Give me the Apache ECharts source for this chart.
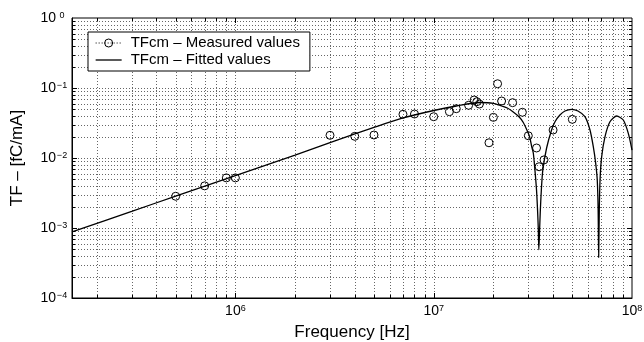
<!DOCTYPE html>
<html>
<head>
<meta charset="utf-8">
<title>TFcm</title>
<script src="https://cdn.jsdelivr.net/npm/echarts@6/dist/echarts.min.js"></script>
<style>
  html, body { margin: 0; padding: 0; background: #fff; }
  #main { width: 644px; height: 342px; }
</style>
</head>
<body>
<div id="main"></div>
<script>
// measured points (Hz, fC/mA)
var measFreq = [5e5, 7e5, 9e5, 1e6, 3e6, 4e6, 5e6, 7e6, 8e6, 1e7, 1.2e7, 1.3e7, 1.5e7, 1.6e7,
    1.65e7, 1.7e7, 1.9e7, 2e7, 2.1e7, 2.2e7, 2.5e7, 2.8e7, 3e7, 3.3e7, 3.4e7, 3.6e7, 4e7, 5e7];
var measValue = [2.84e-3, 4.0e-3, 5.2e-3, 5.2e-3, 0.0211, 0.0204, 0.0213, 0.0421, 0.0425, 0.0389, 0.0459, 0.0506, 0.0566, 0.0674,
    0.0637, 0.059, 0.0165, 0.0381, 0.115, 0.0652, 0.0617, 0.045, 0.0208, 0.0139, 0.0075, 0.0094, 0.0251, 0.0357];

// fitted curve
var fitFreq = [1.5e5, 3e5, 5e5, 1e6, 2e6, 3e6, 5e6, 7e6, 1e7, 1.3e7, 1.7e7, 2e7, 2.2e7, 2.35e7, 2.5e7, 2.7e7, 2.83e7,
    3e7, 3.06e7, 3.12e7, 3.18e7, 3.24e7, 3.3e7, 3.34e7, 3.37e7, 3.39e7, 3.42e7, 3.45e7, 3.49e7, 3.55e7, 3.71e7,
    3.93e7, 4.09e7, 4.33e7, 4.59e7, 4.96e7, 5.34e7, 5.79e7, 6.14e7, 6.38e7, 6.56e7, 6.68e7, 6.75e7, 6.79e7,
    6.84e7, 6.9e7, 7.03e7, 7.31e7, 7.74e7, 8.37e7, 9.04e7, 9.58e7, 1e8];
var fitValue = [8.8e-4, 1.73e-3, 2.85e-3, 5.6e-3, 0.011, 0.0166, 0.0273, 0.0373, 0.0477, 0.0553, 0.0621, 0.0605, 0.0553, 0.0518, 0.0462, 0.0385, 0.0321,
    0.0225, 0.0191, 0.0145, 0.0117, 6.7e-3, 3.5e-3, 1.8e-3, 9.4e-4, 4.9e-4, 9.4e-4, 1.8e-3, 3.5e-3, 6.7e-3, 0.0139,
    0.0251, 0.033, 0.0411, 0.0469, 0.0496, 0.0469, 0.0389, 0.0251, 0.0145, 8.4e-3, 4.85e-3, 1.8e-3, 3.8e-4,
    1.8e-3, 4.85e-3, 0.0104, 0.0202, 0.033, 0.0398, 0.0349, 0.0225, 0.013];

var X_MIN = 1.5e5, X_MAX = 1e8;
var Y_MIN = 1e-4, Y_MAX = 1;
var xDecades = [1e5, 1e6, 1e7];
var yDecades = [1e-4, 1e-3, 1e-2, 1e-1];
var multiples = [1, 2, 3, 4, 5, 6, 7, 8, 9];

// grid lines: [x, y, kind (0 = vertical, 1 = horizontal), major]
var gridItems = [];
xDecades.forEach(function (d) {
    multiples.forEach(function (k) {
        var v = k * d;
        if (v > X_MIN * 1.0001 && v < X_MAX * 0.9999) gridItems.push([v, Y_MIN, 0, k === 1 ? 1 : 0]);
    });
});
yDecades.forEach(function (d) {
    multiples.forEach(function (k) {
        var v = k * d;
        if (v > Y_MIN * 1.0001 && v < Y_MAX * 0.9999) gridItems.push([X_MIN, v, 1, k === 1 ? 1 : 0]);
    });
});

function pow10Label(v, yAxis) {
    var l = Math.log10(v);
    var e = Math.round(l);
    if (Math.abs(l - e) > 1e-6) return '';
    var s = e < 0 ? '\u2212' + (-e) : '' + e;
    return '{b|10}{' + (yAxis ? 'sy' : 's') + '|' + s + '}';
}

var FONT = 'Liberation Sans, Arial, Helvetica, sans-serif';
var labelRich = {
    b: { fontSize: 14, lineHeight: 14, verticalAlign: 'bottom', color: '#000', fontFamily: FONT },
    s: { fontSize: 9, lineHeight: 9, verticalAlign: 'top', color: '#000', fontFamily: FONT },
    sy: { fontSize: 9, lineHeight: 9, verticalAlign: 'top', color: '#000', fontFamily: FONT, width: 12, align: 'left' }
};

var chart = echarts.init(document.getElementById('main'), null, { renderer: 'canvas' });

var option = {
    animation: false,
    backgroundColor: '#fff',
    textStyle: { fontFamily: FONT },
    grid: {
        left: 72, right: 12, top: 18, bottom: 44,
        outerBoundsMode: 'none',
        containLabel: false,
        show: true, borderColor: '#000', borderWidth: 1
    },
    legend: {
        left: 88, top: 32,
        orient: 'vertical',
        backgroundColor: '#fff',
        borderColor: '#000', borderWidth: 1, borderRadius: 0,
        padding: [3, 10, 3, 7],
        itemGap: 1,
        itemWidth: 26, itemHeight: 10,
        selectedMode: false,
        textStyle: { fontSize: 15, lineHeight: 16, color: '#000', fontFamily: FONT, padding: [0, 0, 0, 4] },
        data: [
            {
                name: 'TFcm \u2013 Measured values',
                itemStyle: { color: 'transparent', borderColor: '#000', borderWidth: 1 },
                lineStyle: { color: '#000', width: 1, type: [1, 2], opacity: 1 }
            },
            {
                name: 'TFcm \u2013 Fitted values',
                itemStyle: { color: 'transparent', borderColor: 'transparent', borderWidth: 0, opacity: 0 },
                lineStyle: { color: '#000', width: 1.3, type: 'solid', opacity: 1 }
            }
        ]
    },
    xAxis: {
        type: 'log',
        min: X_MIN, max: X_MAX,
        name: 'Frequency [Hz]',
        nameLocation: 'middle',
        nameGap: 26,
        nameTextStyle: { fontSize: 17, color: '#000', fontFamily: FONT },
        axisLine: { show: true, lineStyle: { color: '#000', width: 1 } },
        axisTick: { show: false },
        splitLine: { show: false },
        axisLabel: {
            margin: 6,
            formatter: function (v) { return pow10Label(v, false); },
            rich: labelRich
        }
    },
    yAxis: {
        type: 'log',
        min: Y_MIN, max: Y_MAX,
        name: 'TF \u2013 [fC/mA]',
        nameLocation: 'middle',
        nameGap: 46,
        nameTextStyle: { fontSize: 17, color: '#000', fontFamily: FONT },
        axisLine: { show: true, lineStyle: { color: '#000', width: 1 } },
        axisTick: { show: false },
        splitLine: { show: false },
        axisLabel: {
            margin: 4,
            formatter: function (v) { return pow10Label(v, true); },
            rich: labelRich
        }
    },
    series: [
        {
            // dotted grid and inside ticks on all four sides
            type: 'custom',
            silent: true,
            z: 1,
            clip: false,
            data: gridItems,
            renderItem: function (params, api) {
                var cs = params.coordSys;
                var kind = api.value(2), major = api.value(3);
                var len = major ? 5 : 3;
                var top = cs.y, bottom = cs.y + cs.height, left = cs.x, right = cs.x + cs.width;
                var dot = { stroke: '#666', lineWidth: 1, lineDash: [1, 2] };
                var tick = { stroke: '#000', lineWidth: 1 };
                if (kind === 0) {
                    var x = Math.round(api.coord([api.value(0), Y_MIN])[0]) + 0.5;
                    return {
                        type: 'group', children: [
                            { type: 'line', shape: { x1: x, y1: top, x2: x, y2: bottom }, style: dot },
                            { type: 'line', shape: { x1: x, y1: bottom, x2: x, y2: bottom - len }, style: tick },
                            { type: 'line', shape: { x1: x, y1: top, x2: x, y2: top + len }, style: tick }
                        ]
                    };
                }
                var y = Math.round(api.coord([X_MIN, api.value(1)])[1]) + 0.5;
                return {
                    type: 'group', children: [
                        { type: 'line', shape: { x1: left, y1: y, x2: right, y2: y }, style: dot },
                        { type: 'line', shape: { x1: left, y1: y, x2: left + len, y2: y }, style: tick },
                        { type: 'line', shape: { x1: right, y1: y, x2: right - len, y2: y }, style: tick }
                    ]
                };
            }
        },
        {
            name: 'TFcm \u2013 Fitted values',
            type: 'line',
            z: 3,
            symbol: 'none',
            smooth: 0.25,
            lineStyle: { color: '#000', width: 1.3 },
            itemStyle: { color: '#000' },
            data: fitFreq.map(function (f, i) { return [f, fitValue[i]]; })
        },
        {
            name: 'TFcm \u2013 Measured values',
            type: 'line',
            z: 4,
            symbol: 'circle',
            symbolSize: 8,
            showSymbol: true,
            lineStyle: { opacity: 0, color: '#000', type: [1, 2], width: 1 },
            itemStyle: { color: 'transparent', borderColor: '#000', borderWidth: 1 },
            data: measFreq.map(function (f, i) { return [f, measValue[i]]; })
        }
    ]
};

chart.setOption(option);
</script>
</body>
</html>
